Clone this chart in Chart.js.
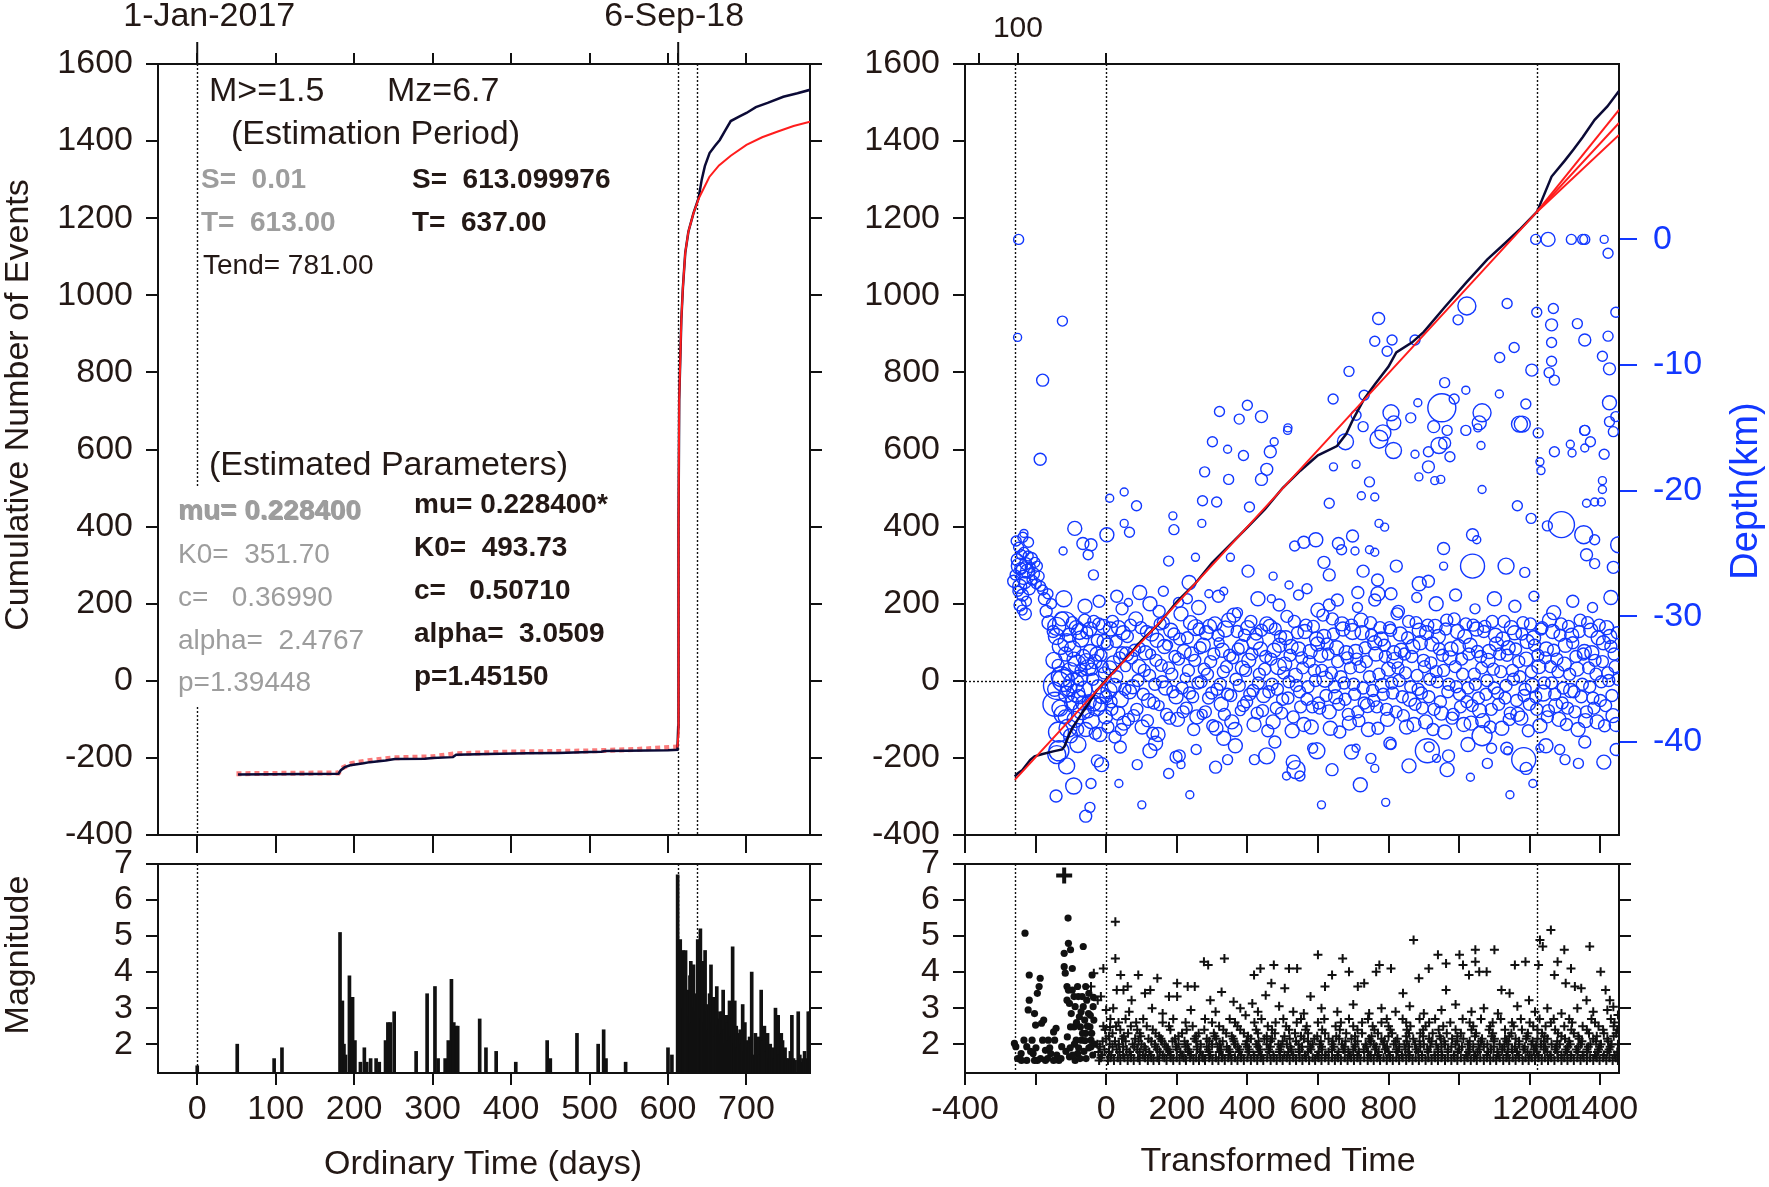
<!DOCTYPE html>
<html>
<head>
<meta charset="utf-8">
<script src="https://cdn.jsdelivr.net/npm/chart.js@4/dist/chart.umd.min.js"></script>
<style>
  html, body { margin: 0; padding: 0; background: #fff; }
  #wrap { position: relative; width: 1769px; height: 1187px; }
  #wrap canvas { position: absolute; left: 0; top: 0; }
</style>
</head>
<body>
<div id="wrap">
  <canvas id="cumOrd" width="1769" height="1187"></canvas>
  <canvas id="magOrd" width="1769" height="1187"></canvas>
  <canvas id="cumTrans" width="1769" height="1187"></canvas>
  <canvas id="magTrans" width="1769" height="1187"></canvas>
</div>
<script>
// ---- ordinary time panel (top left) ----
const ordDaysObs = [52,180,183,188,195,212,220,240,252,290,300,326,330,370,420,460,500,515,520,600,612,613,613.4,614.3,617,619,622,626,632.5,639,643,647,653,660,666,673,680,690,700,712,727,747,765,781];
const ordCumObs  = [-243,-241,-232,-224,-219,-214,-211,-207,-203,-202,-200,-198,-192,-190,-188,-187,-185,-184,-182,-180,-179,-120,400,729,936,1020,1110,1165,1213,1252,1300,1335,1369,1388,1403,1428,1452,1463,1473,1488,1499,1515,1524,1533];
const ordDaysFitEarly = [50,180,184,196,215,250,300,330,400,500,560,612];
const ordCumFitEarly  = [-241,-239,-227,-215,-208,-200,-197,-189,-185,-182,-178,-172];
const ordDaysFit = [612,613.2,613.4,614.3,617,619,622,626,632.5,639,645,652.7,665,680,700,720,740,760,781];
const ordCumFit  = [-173,-140,400,729,936,1020,1110,1165,1213,1250,1275,1307,1337,1362,1390,1410,1425,1439,1450];

// ---- magnitude vs ordinary time (bottom left) : [day, M] ----
const magEvents = [[0,1.4],[51,2.0],[98,1.6],[108,1.9],[182,5.1],[185,3.2],[187,2.0],[189,1.7],[194,3.9],[198,3.3],[201,2.1],[208,1.5],[213,1.9],[216,1.5],[221,1.6],[228,1.6],[232,1.5],[240,2.1],[243,2.6],[246,2.6],[251,2.9],[279,1.8],[293,3.4],[303,3.6],[307,1.6],[316,1.6],[320,2.1],[324,3.8],[327,2.6],[330,2.5],[332,2.5],[360,2.7],[368,1.9],[381,1.8],[406,1.5],[446,2.1],[450,1.6],[484,2.3],[511,2.0],[518,2.4],[521,1.6],[546,1.5],[600,1.9],[605,1.7],
  [612.3,6.7],[613,3.5],[614,4.5],[615.6,4.9],[617,4.0],[618,3.8],[619,4.6],[620,3.0],[621,4.5],[622.4,4.6],[624,3.3],[625.8,3.5],[627,2.8],[628,3.9],[629.1,4.3],[630,2.6],[631,3.6],[632.5,4.2],[633,3.0],[634.5,3.4],[636,2.9],[637.9,4.9],[639,3.3],[641.3,5.2],[642,2.7],[643,4.0],[644,4.3],[646,2.6],[647.3,4.6],[649,3.1],[650.7,2.9],[652,2.4],[653,3.4],[654.8,4.2],[656,2.6],[657,2.9],[658.1,3.3],[660,2.2],[661,3.0],[662.2,3.6],[664,2.5],[665,2.7],[666.2,2.9],[668,2.3],[669,2.9],[670.3,3.5],[672,2.4],[673,2.0],[674.3,2.8],[676,2.6],[677,2.1],[678.4,3.2],[680,2.7],[681,2.2],[682.4,4.7],[684,2.0],[685.1,3.2],[687,2.5],[688,1.9],[689.8,2.3],[692,2.4],[694,2.0],[695.2,3.1],[697,1.8],[698,2.6],[700,2.1],[702,1.9],[704,2.2],[706.7,4.0],[709,1.7],[711.4,2.3],[713,2.0],[715.4,2.2],[717,1.7],[718.8,3.5],[720,2.1],[722.9,2.5],[725,1.8],[726.9,2.3],[729,1.6],[730.3,2.0],[733,1.9],[735,1.6],[737,3.0],[740.4,2.8],[742,1.7],[744.4,2.3],[746,2.1],[749.2,1.9],[751,1.6],[753.9,1.6],[756,1.8],[757.9,2.8],[760,1.6],[762,1.55],[766,2.9],[768,1.7],[770.7,1.5],[772,1.6],[774.1,1.8],[776,1.6],[778.8,2.9],[780,1.8],[781,2.9]];

// ---- transformed time panel (top right) ----
const trTimeObs = [-259,-250,-238,-215,-203,-180,-150,-125,-118,-105,-96,-80,-65,-45,-28,-10,3,50,100,150,200,250,300,350,400,450,500,550,600,654,680,700,731,762,800,822,867,900,959,1020,1080,1130,1171,1221,1262,1300,1323,1350,1384,1420,1453];
const trCumObs  = [-248,-240,-232,-205,-196,-190,-183,-178,-170,-140,-123,-100,-79,-52,-27,-8,6,52,104,148,205,250,306,352,398,445,500,545,585,609,640,679,731,770,815,852,878,905,969,1033,1093,1135,1170,1217,1308,1350,1377,1410,1455,1490,1530];
const trTimeFit  = [-259,1221,1453];
const trCumFit   = [-257,1217,1447];
const trTimeBand = [1221,1453];
const trCumUpper = [1217,1481];
const trCumLower = [1217,1416];

// depth of events [transformed time, depth km, circle radius]
const depthScatter = [[-248,0,5],[-251,-7.8,4],[-124,-6.5,5],[-180,-11.2,6],[772,-6.3,6],[761,-8.1,5],[810,-8,5],[796,-8.9,5],[875,-8,5],[688,-10.5,5],[1022,-5.3,9],[997,-6.4,5],[1136,-5.1,5],[1156,-8.6,5],[1115,-9.4,5],[1206,-10.4,6],[1217,0,5],[1252,0,7],[1318,0,5],[1350,0,5],[1356,0,5],[1411,0,4],[1422,-1.1,5],[1220,-5.8,5],[1267,-5.5,5],[1262,-6.8,6],[1335,-6.7,5],[1356,-8,6],[1422,-7.7,5],[1444,-5.8,5],[1262,-8.2,5],[1262,-9.7,5],[1406,-9.3,5],[1270,-11.2,5],[1255,-10.6,5],[1426,-10.3,6],[1426,-13,7],[1426,-14.5,5],[1444,-14.1,5],[1356,-15.2,5],[1437,-15.3,5],[959,-11.4,5],[1019,-12,4],[1114,-12.3,4],[951,-13.4,14],[986,-12.7,5],[883,-13,4],[863,-14.2,5],[807,-13.8,8],[815,-14.6,7],[784,-15.4,8],[731,-12.4,5],[643,-12.7,5],[708,-14,5],[728,-14.9,5],[928,-14.9,6],[966,-15.2,5],[1019,-15.2,5],[1065,-13.8,9],[1057,-14.6,7],[1179,-14.7,8],[1189,-13.1,5],[1224,-15.4,5],[400,-13.2,5],[321,-13.7,5],[377,-14.3,5],[440,-14.1,6],[514,-15.2,4],
  [-187,-17.5,6],[-233,-23.4,4],[-89,-23,7],[-66,-24.2,6],[-43,-24.3,6],[-51,-25.1,5],[-36,-26.7,5],[-122,-24.8,4],[2,-23.5,7],[10,-20.6,4],[51,-20.1,4],[86,-21.2,5],[51,-22.6,4],[66,-23.3,5],[189,-22,4],[192,-23.1,5],[177,-25.6,5],[273,-20.8,5],[313,-20.9,5],[271,-22.6,4],[301,-16.1,5],[344,-16.7,4],[389,-17.2,5],[465,-16.9,6],[455,-18.3,6],[440,-19.1,6],[279,-18.5,5],[347,-19.1,5],[406,-21.3,5],[352,-25.3,4],[253,-25.3,4],[402,-26.4,6],[473,-26.8,4],[515,-15,4],[476,-16.1,4],[632,-21,5],[644,-18.1,4],[678,-16.1,8],[708,-17.9,4],[723,-20.4,4],[746,-19.3,5],[761,-20.5,4],[773,-22.6,4],[789,-22.9,4],[773,-15.9,9],[814,-16.8,8],[875,-17.1,4],[913,-16.9,5],[943,-16.4,8],[959,-16.2,6],[974,-17.3,5],[913,-18.1,6],[886,-18.9,4],[931,-19.2,4],[948,-19.1,4],[1062,-16.4,4],[1065,-19.9,4],[1053,-15,4],[1171,-14.7,8],[1165,-21.2,5],[1204,-22.2,5],[1229,-17.7,4],[1232,-18.4,4],[1270,-16.9,5],[1315,-16.3,4],[1320,-17,4],[1356,-16.6,4],[1372,-16.1,5],[1356,-15.2,5],[1411,-17.1,5],[1406,-19.2,4],[1406,-19.9,4],[1361,-21,4],[1384,-20.9,4],[1403,-20.9,4],[1250,-22.8,5],[1290,-22.7,13],[1353,-23.5,9],[1384,-23.9,5],[1452,-24.3,8],[1437,-26.1,6],[1361,-25.1,6],[1384,-25.8,5],[1038,-23.5,6],[1050,-23.9,4],[956,-24.6,6],[956,-26,4],[1038,-26,12],[1133,-26,8],[1186,-26.5,5],[822,-26,6],[769,-27.1,6],[728,-26.4,6],[698,-23.6,6],[658,-24.2,6],[667,-24.7,5],[594,-23.9,7],[560,-24.1,6],[534,-24.4,5],[617,-25.7,6],[632,-26.7,6],[705,-24.8,4],[746,-24.7,4],[761,-24.9,4],[887,-27.4,7],[913,-27.2,6],[807,-28.2,6],[761,-28.7,6],[713,-28.1,6],[632,-29.1,6],[569,-27.8,5],[518,-27.5,4],[468,-28.6,4],[333,-28,4],[291,-28.2,4],[235,-27.3,7],[162,-28,5],[30,-28.4,6],[63,-28.9,4],[124,-29,7],[230,-28.6,5],
  [-142,-44.3,6],[-58,-45.9,6],[-46,-45.2,5],[-92,-43.5,8],[-112,-41.9,8],[-134,-40.7,10],[-43,-43.3,5],[-13,-41.8,7],[36,-43.3,4],[101,-45,4],[237,-44.2,4],[177,-42.5,5],[212,-41.8,4],[124,-40.7,7],[207,-41.1,6],[344,-41.4,5],[333,-39.7,7],[455,-41.1,8],[511,-42.7,4],[538,-42.2,9],[549,-42.7,5],[597,-40.7,8],[610,-45,4],[708,-40.5,4],[720,-43.4,7],[761,-42.1,4],[792,-44.8,4],[807,-40.2,5],[910,-40.7,12],[936,-41.3,4],[966,-42.2,7],[1032,-42.8,4],[1065,-39.5,10],[1092,-40.5,5],[1138,-40.7,4],[1183,-41.4,12],[1144,-44.2,4],[1209,-43.3,4],[1229,-40.5,4],[1285,-40.6,5],[1338,-41.7,5]];

const depthCluster = [[-258,-26.7,5],[-252,-25.5,6],[-248,-24.5,5],[-245,-27.6,7],[-242,-26.2,6],[-240,-25.1,5],[-237,-28.3,6],[-235,-26.9,7],[-233,-24.9,5],[-230,-27.3,6],[-228,-25.8,6],[-226,-28.8,5],[-223,-26.4,7],[-221,-25.2,5],[-218,-27.8,6],[-215,-26.1,5],[-212,-25.4,6],[-210,-27.1,5],[-206,-26.6,6],[-202,-25.7,5],[-198,-27.4,5],[-195,-26.0,5],[-190,-26.8,5],[-186,-27.6,5],[-180,-27.9,5],[-175,-28.6,6],[-250,-28.0,5],[-244,-29.1,6],[-238,-29.5,5],[-229,-29.8,6],[-262,-27.2,6],[-255,-24.0,5],[-236,-23.7,5],[-220,-24.1,5],[-246,-26.0,8],[-232,-26.3,8],[-170,-29.6,6],[-162,-30.5,7],[-155,-29.0,5],[-150,-31.2,6],[-165,-28.2,5]];

const depthBand = [[-148,-33.5,8],[-145,-37.0,12],[-140,-30.8,9],[-138,-35.5,14],[-135,-39.2,10],[-130,-32.4,8],[-127,-34.8,10],[-122,-37.8,9],[-118,-30.6,12],[-115,-33.0,7],[-112,-36.2,8],[-108,-38.9,9],[-105,-31.5,7],[-102,-34.4,9],[-98,-36.9,7],[-95,-32.6,8],[-92,-35.3,10],[-88,-38.2,8],[-85,-30.9,7],[-82,-33.8,9],[-78,-36.4,7],[-75,-34.9,8],[-72,-31.8,8],[-68,-37.5,9],[-65,-33.2,7],[-62,-35.8,8],[-58,-39.0,7],[-55,-31.3,6],[-52,-34.1,8],[-48,-36.8,7],[-45,-32.8,7],[-42,-38.3,8],[-38,-35.0,6],[-35,-30.4,6],[-32,-33.6,7],[-28,-37.2,9],[-25,-31.9,6],[-22,-35.6,7],[-18,-39.4,7],[-15,-33.1,6],[-12,-36.3,8],[-8,-30.8,7],[-5,-34.5,6],[-2,-38.0,7],
  [3,-32.2,6],[8,-35.9,8],[12,-31.0,7],[16,-37.4,6],[20,-33.7,7],[25,-39.6,6],[30,-34.8,6],[35,-30.9,7],[40,-36.6,8],[45,-32.9,6],[50,-38.5,7],[55,-34.0,5],[60,-31.6,6],[66,-36.0,7],[72,-33.3,6],[78,-37.9,6],[84,-30.2,7],[90,-35.1,6],[96,-32.5,5],[102,-38.8,7],[108,-34.3,6],[114,-31.2,6],[120,-36.7,7],[126,-33.0,5],[132,-39.3,6],[138,-35.4,6],[144,-31.9,7],[150,-37.1,5],[156,-33.9,6],[162,-30.5,6],[168,-35.7,7],[174,-32.3,5],[180,-38.1,6],[186,-34.6,6],[192,-31.4,6],[198,-36.4,7],
  [205,-33.4,6],[212,-29.8,7],[218,-37.6,6],[224,-34.9,5],[230,-31.7,6],[236,-36.1,6],[242,-33.0,7],[248,-39.0,6],[254,-30.9,8],[260,-35.3,6],[266,-32.5,6],[272,-37.8,5],[278,-34.2,6],[284,-31.3,7],[290,-36.5,6],[296,-33.6,6],[302,-38.7,6],[308,-30.6,7],[314,-35.8,6],[320,-32.1,5],[326,-37.0,7],[332,-34.4,6],[338,-31.0,8],[344,-36.2,6],[350,-33.1,6],[356,-38.4,7],[362,-29.9,7],[368,-35.0,6],[374,-32.6,6],[380,-37.5,5],[386,-34.1,7],[392,-31.5,6],[398,-36.8,6],
  [404,-33.5,7],[410,-30.4,6],[416,-35.9,6],[422,-32.0,8],[428,-37.7,6],[434,-34.6,6],[440,-31.1,6],[446,-36.3,7],[452,-33.2,6],[458,-39.1,6],[464,-30.8,7],[470,-35.4,6],[476,-32.7,7],[482,-37.3,6],[488,-34.0,8],[494,-31.6,6],[500,-36.6,6],[506,-33.8,7],[512,-30.0,6],[518,-35.2,6],[524,-32.4,7],[530,-38.0,6],[536,-34.7,7],[542,-31.3,6],[548,-36.0,6],[554,-33.3,6],[560,-38.6,7],[566,-30.7,6],[572,-35.6,6],[578,-32.8,7],[584,-37.2,6],[590,-34.3,6],[596,-31.8,7],
  [602,-36.9,6],[608,-33.1,7],[614,-29.9,6],[620,-35.0,8],[626,-32.2,6],[632,-37.6,7],[638,-34.5,6],[644,-31.4,6],[650,-36.4,7],[656,-33.6,6],[662,-39.2,6],[668,-30.6,7],[674,-35.3,6],[680,-32.9,7],[686,-37.8,6],[692,-34.1,6],[698,-31.2,8],[704,-36.2,6],[710,-33.4,6],[716,-38.3,6],[722,-30.3,7],[728,-35.7,6],[734,-32.5,6],[740,-37.1,7],[746,-34.8,6],[752,-31.5,6],[758,-36.7,6],[764,-33.0,7],[770,-38.9,6],[776,-30.9,6],[782,-35.5,7],[788,-32.3,6],[794,-37.4,6],
  [800,-34.2,7],[806,-31.1,6],[812,-36.1,6],[818,-33.5,8],[824,-29.8,6],[830,-35.1,6],[836,-32.7,7],[842,-37.9,6],[848,-34.5,6],[854,-31.7,6],[860,-36.6,7],[866,-33.2,6],[872,-38.6,7],[878,-30.5,6],[884,-35.8,6],[890,-32.1,7],[896,-37.3,6],[902,-34.0,6],[908,-31.3,7],[914,-36.4,6],[920,-33.7,6],[926,-39.0,6],[932,-30.8,7],[938,-35.2,6],[944,-32.6,6],[950,-37.7,7],[956,-34.3,6],[962,-31.0,6],[968,-36.0,6],[974,-33.3,7],[980,-38.1,6],[986,-30.2,6],[992,-35.6,6],[998,-32.4,7],
  [1004,-37.2,6],[1010,-34.6,6],[1016,-31.6,7],[1022,-36.8,6],[1028,-33.0,6],[1034,-38.5,7],[1040,-30.7,6],[1046,-35.4,6],[1052,-32.8,6],[1058,-37.5,7],[1064,-34.1,6],[1070,-31.2,6],[1076,-36.2,6],[1082,-33.5,7],[1088,-38.8,6],[1094,-30.4,6],[1100,-35.7,6],[1106,-32.2,7],[1112,-37.0,6],[1118,-34.4,6],[1124,-31.8,7],[1130,-36.5,6],[1136,-33.1,6],[1142,-38.2,6],[1148,-30.9,7],[1154,-35.0,6],[1160,-32.6,6],[1166,-37.8,7],[1172,-34.8,6],[1178,-31.4,6],[1184,-36.3,6],[1190,-33.4,7],[1196,-39.1,6],
  [1202,-30.6,6],[1208,-35.5,7],[1214,-32.3,6],[1220,-37.4,6],[1226,-34.0,7],[1232,-31.0,6],[1238,-36.1,8],[1244,-33.3,6],[1250,-38.0,6],[1256,-30.3,7],[1262,-35.3,6],[1268,-32.7,6],[1274,-37.1,7],[1280,-34.4,6],[1286,-31.5,6],[1292,-36.9,6],[1298,-33.8,7],[1304,-38.6,6],[1310,-30.8,6],[1316,-35.9,7],[1322,-32.1,6],[1328,-37.6,6],[1334,-34.2,7],[1340,-31.2,6],[1346,-36.4,6],[1352,-33.0,6],[1358,-38.3,7],[1364,-30.5,6],[1370,-35.6,6],[1376,-32.9,7],[1382,-37.3,6],[1388,-34.6,6],[1394,-31.7,7],[1400,-36.7,6],[1406,-33.6,6],[1412,-38.7,6],[1418,-30.9,7],[1424,-35.1,6],[1430,-32.4,6],[1436,-37.9,7],[1442,-34.0,6],[1448,-31.3,6]];

const depthBandLate = [[-146,-35.8,7],[-141,-31.6,8],[-136,-33.9,6],[-131,-37.3,8],[-126,-30.2,7],[-121,-35.1,11],[-116,-38.0,7],[-111,-32.1,9],[-106,-35.7,8],[-101,-39.5,7],[-96,-30.5,6],[-91,-33.4,7],[-86,-36.1,9],[-81,-39.0,6],[-76,-31.2,8],[-71,-34.3,6],[-66,-36.9,7],[-61,-30.3,6],[-56,-33.6,8],[-51,-37.6,6],[-46,-31.0,7],[-41,-34.2,6],[-36,-36.9,8],[-31,-39.3,6],[-26,-33.0,7],[-21,-30.6,6],[-16,-37.0,7],[-11,-34.0,6],[-6,-32.0,7],[-1,-36.4,6],
  [5,-38.8,6],[10,-34.1,7],[14,-36.8,6],[18,-30.4,6],[23,-35.5,7],[28,-32.0,6],[33,-37.7,7],[38,-33.3,6],[43,-39.0,6],[48,-31.3,7],[53,-35.8,6],[58,-33.0,7],[63,-38.2,6],[69,-30.7,6],[75,-35.6,7],[81,-32.7,6],[87,-37.4,6],[93,-34.0,7],[99,-30.9,6],[105,-36.2,6],[111,-32.9,7],[117,-38.3,6],[123,-34.7,6],[129,-31.4,7],[135,-36.9,6],[141,-33.5,6],[147,-39.4,7],[153,-30.6,6],[159,-35.2,6],[165,-32.4,7],[171,-37.8,6],[177,-34.1,6],[183,-31.1,7],[189,-36.0,6],[195,-33.2,6],
  [202,-38.2,7],[208,-31.8,6],[215,-35.7,6],[221,-32.8,7],[227,-37.3,6],[233,-34.3,6],[239,-30.5,7],[245,-36.4,6],[251,-33.5,6],[257,-38.0,7],[263,-31.0,6],[269,-35.2,6],[275,-32.3,7],[281,-37.6,6],[287,-34.6,6],[293,-30.8,7],[299,-36.1,6],[305,-33.0,6],[311,-38.9,7],[317,-31.5,6],[323,-35.4,6],[329,-32.7,7],[335,-37.8,6],[341,-34.0,6],[347,-30.3,7],[353,-36.3,6],[359,-33.3,6],[365,-39.0,7],[371,-31.2,6],[377,-35.5,6],[383,-32.4,7],[389,-37.1,6],[395,-34.3,6],
  [401,-30.9,7],[407,-36.2,6],[413,-33.0,6],[419,-38.6,7],[425,-31.4,6],[431,-35.3,6],[437,-32.6,7],[443,-37.5,6],[449,-34.2,6],[455,-30.6,7],[461,-36.0,6],[467,-33.4,6],[473,-38.4,7],[479,-31.0,6],[485,-35.8,6],[491,-32.3,7],[497,-37.7,6],[503,-34.5,6],[509,-31.7,7],[515,-36.5,6],[521,-33.1,6],[527,-39.1,7],[533,-30.4,6],[539,-35.5,6],[545,-32.6,7],[551,-37.2,6],[557,-34.1,6],[563,-31.2,7],[569,-36.6,6],[575,-33.6,6],[581,-38.8,7],[587,-30.8,6],[593,-35.1,6],[599,-32.2,7],
  [605,-37.3,6],[611,-34.3,6],[617,-31.6,7],[623,-36.3,6],[629,-33.0,6],[635,-38.9,7],[641,-30.2,6],[647,-35.6,6],[653,-32.5,7],[659,-37.0,6],[665,-34.8,6],[671,-31.0,7],[677,-36.6,6],[683,-33.3,6],[689,-38.5,7],[695,-30.7,6],[701,-35.4,6],[707,-32.8,7],[713,-37.6,6],[719,-34.0,6],[725,-31.3,7],[731,-36.9,6],[737,-33.6,6],[743,-39.0,7],[749,-30.5,6],[755,-35.9,6],[761,-32.1,7],[767,-37.2,6],[773,-34.6,6],[779,-31.8,7],[785,-36.2,6],[791,-33.2,6],[797,-38.2,7],
  [803,-30.9,6],[809,-35.3,6],[815,-32.9,7],[821,-37.6,6],[827,-34.1,6],[833,-31.4,7],[839,-36.4,6],[845,-33.0,6],[851,-38.8,7],[857,-30.4,6],[863,-35.6,6],[869,-32.4,7],[875,-37.0,6],[881,-34.7,6],[887,-31.1,7],[893,-36.1,6],[899,-33.5,6],[905,-38.4,7],[911,-30.7,6],[917,-35.0,6],[923,-32.2,7],[929,-37.4,6],[935,-34.4,6],[941,-31.6,7],[947,-36.8,6],[953,-33.1,6],[959,-39.2,7],[965,-30.3,6],[971,-35.4,6],[977,-32.6,7],[983,-37.8,6],[989,-34.0,6],[995,-31.2,7],
  [1001,-36.2,6],[1007,-33.4,6],[1013,-38.6,7],[1019,-30.6,6],[1025,-35.7,6],[1031,-32.3,7],[1037,-37.1,6],[1043,-34.6,6],[1049,-31.0,7],[1055,-36.5,6],[1061,-33.2,6],[1067,-38.3,7],[1073,-30.8,6],[1079,-35.1,6],[1085,-32.8,7],[1091,-37.4,6],[1097,-34.2,6],[1103,-31.5,7],[1109,-36.1,6],[1115,-33.0,6],[1121,-38.9,7],[1127,-30.4,6],[1133,-35.5,6],[1139,-32.5,7],[1145,-37.7,6],[1151,-34.3,6],[1157,-31.3,7],[1163,-36.7,6],[1169,-33.6,6],[1175,-38.1,7],[1181,-30.5,6],[1187,-35.8,6],[1193,-32.0,7],
  [1199,-37.0,6],[1205,-34.4,6],[1211,-31.7,7],[1217,-36.4,6],[1223,-33.1,6],[1229,-38.7,7],[1235,-30.9,6],[1241,-35.3,6],[1247,-32.6,7],[1253,-37.5,6],[1259,-34.0,6],[1265,-31.2,7],[1271,-36.2,6],[1277,-33.4,6],[1283,-38.2,7],[1289,-30.6,6],[1295,-35.7,6],[1301,-32.3,7],[1307,-37.3,6],[1313,-34.6,6],[1319,-31.5,7],[1325,-36.0,6],[1331,-33.2,6],[1337,-39.0,7],[1343,-30.3,6],[1349,-35.4,6],[1355,-32.8,7],[1361,-37.6,6],[1367,-34.1,6],[1373,-31.1,7],[1379,-36.5,6],[1385,-33.5,6],[1391,-38.4,7],[1397,-30.7,6],[1403,-35.2,6],[1409,-32.1,7],[1415,-37.1,6],[1421,-34.5,6],[1427,-31.6,7],[1433,-36.3,6],[1439,-33.0,6],[1445,-38.6,7],[1451,-35.0,6]];

// loose circles along the upper and lower edges of the band
const depthBandEdge = [[-120,-28.6,8],[-60,-29.2,7],[-20,-28.8,6],[45,-29.4,6],[95,-28.1,7],[150,-29.6,6],[205,-28.9,5],[262,-29.3,7],[318,-28.4,6],[372,-29.7,5],[430,-28.6,7],[490,-29.1,6],[545,-28.3,5],[600,-29.5,7],[655,-28.7,6],[712,-29.3,5],[770,-28.2,7],[828,-29.6,6],[880,-28.5,5],[935,-29.0,7],[990,-28.3,6],[1045,-29.4,5],[1100,-28.6,7],[1158,-29.2,6],[1212,-28.4,5],[1268,-29.7,7],[1322,-28.8,6],[1378,-29.3,5],[1430,-28.5,7],
  [-140,-41.0,9],[-80,-40.2,8],[-25,-41.5,6],[40,-40.4,6],[88,-41.8,5],[140,-40.1,7],[198,-41.2,6],[255,-40.6,5],[310,-42.0,6],[366,-40.3,7],[420,-41.4,5],[478,-40.0,6],[530,-41.6,7],[585,-40.5,5],[640,-42.2,6],[695,-40.8,7],[750,-41.3,5],[804,-40.1,6],[858,-41.9,7],[915,-40.4,5],[970,-41.1,6],[1025,-40.2,7],[1080,-41.7,5],[1135,-40.5,6],[1190,-42.1,6],[1246,-40.3,7],[1300,-41.4,5],[1356,-40.0,6],[1410,-41.6,7],[1445,-40.6,6]];

// ---- magnitude vs transformed time (bottom right) ----
const mainshock = [[-119,6.68]];
const magDots = [[-260,2.02],[-256,1.93],[-251,1.6],[-241,1.74],[-230,5.08],[-225,1.93],[-218,3.22],[-218,3.92],[-221,2.95],[-210,2.11],[-203,2.85],[-200,2.53],[-195,3.41],[-190,3.6],[-187,3.83],[-183,2.58],[-180,2.11],[-177,2.67],[-172,1.83],[-172,1.55],[-164,2.11],[-157,1.74],[-149,2.34],[-146,2.11],[-142,2.44],[-134,1.55],[-126,1.93],[-119,4.52],[-119,4.15],[-116,3.97],[-111,3.6],[-111,3.22],[-108,5.5],[-107,4.8],[-104,3.13],[-101,4.62],[-99,2.85],[-96,4.1],[-96,3.5],[-91,2.48],[-88,3.04],[-85,2.11],[-81,3.6],[-81,1.74],[-76,2.76],[-73,2.48],[-70,2.11],[-65,4.71],[-65,3.04],[-61,2.67],[-58,2.3],[-55,3.22],[-50,2.85],[-46,2.48],[-43,2.11],[-40,3.92],[-37,3.04],[-35,2.67],[-43,1.93],[-88,1.55],[-104,1.65],[-149,1.55],[-195,1.55],[-225,1.55],[-233,2.11],[-207,1.74],[-203,1.55],[-101,2.48],[-107,3.5],[-91,3.32],[-79,3.32],[-68,3.32],[-58,3.6],[-49,3.41],
  [-240,1.55],[-214,1.8],[-199,1.9],[-186,1.6],[-166,1.6],[-160,1.9],[-140,1.7],[-128,1.6],[-114,1.8],[-110,2.2],[-102,1.9],[-95,1.7],[-90,2.0],[-84,2.6],[-78,1.9],[-74,1.6],[-71,2.9],[-67,2.3],[-63,1.8],[-60,2.1],[-57,1.6],[-53,2.5],[-49,1.9],[-45,2.8],[-41,2.3],[-38,1.7],[-36,3.3],[-33,2.0]];
const magPlus = [[-43,3.6],[-35,3.97],[-24,3.22],[-15,3.32],[-8,4.1],[0,2.95],[11,2.48],[26,5.4],[26,4.38],[30,3.5],[41,3.92],[49,3.5],[61,3.6],[72,3.22],[91,3.92],[110,3.41],[125,3.5],[145,3.83],[178,3.32],[201,3.69],[201,3.32],[231,3.6],[251,3.6],[277,4.29],[289,4.2],[295,3.22],[327,3.45],[335,4.38],[361,3.18],[414,3.13],[419,3.92],[437,4.1],[452,3.36],[468,3.69],[475,4.2],[506,3.55],[518,4.1],[541,4.1],[579,3.32],[600,4.48],[620,3.6],[640,3.92],[670,4.38],[688,4.01],[713,3.6],[731,3.69],[765,4.01],[774,4.2],[807,4.1],[841,3.41],[871,4.89],[886,3.83],[914,4.1],[940,4.48],[963,4.24],[963,3.5],[1001,4.48],[1011,4.2],[1028,3.92],[1046,4.62],[1046,4.29],[1057,4.01],[1078,4.01],[1100,4.62],[1120,3.5],[1143,3.41],[1158,4.2],[1188,4.29],[1198,3.22],[1225,4.2],[1229,4.89],[1237,4.71],[1260,5.17],[1270,3.92],[1279,4.29],[1298,4.62],[1302,3.69],[1317,4.1],[1328,3.6],[1346,3.55],[1361,3.22],[1370,4.71],[1401,4.01],[1415,3.5],[1427,3.22],[1437,3.04],[1450,2.81],
  [20,3.0],[65,2.9],[130,3.0],[160,2.85],[240,2.95],[310,2.9],[380,3.0],[395,2.8],[430,2.9],[490,3.05],[530,2.9],[560,2.85],[610,3.0],[655,2.9],[700,3.1],[745,2.85],[780,3.0],[820,2.9],[860,3.05],[900,2.85],[950,2.95],[990,3.1],[1035,2.9],[1070,3.0],[1110,2.85],[1165,3.05],[1215,2.9],[1250,3.0],[1290,2.85],[1335,3.0],[1380,2.9],[1420,2.95]];
// the dense low-magnitude crowd, grouped by magnitude level
const plusRows = [
  [1.55, [-20,5,22,40,61,78,95,118,134,150,171,190,208,226,247,263,280,301,318,336,355,372,390,410,428,445,466,483,500,520,538,556,575,592,610,630,648,665,684,702,720,741,758,776,795,812,830,850,868,886,905,922,940,960,978,995,1015,1033,1050,1070,1088,1105,1125,1142,1160,1180,1197,1215,1234,1252,1270,1290,1307,1325,1344,1362,1380,1398,1417,1435,1450]],
  [1.62, [-15,12,33,52,70,90,110,128,145,165,183,200,220,238,255,274,292,311,328,346,365,382,400,420,438,456,475,493,512,530,548,566,585,602,620,640,657,676,694,712,731,750,768,786,804,822,840,858,877,895,913,932,950,968,987,1005,1024,1042,1060,1079,1097,1115,1134,1152,1170,1188,1206,1225,1243,1261,1280,1298,1316,1335,1353,1371,1390,1408,1426,1444]],
  [1.7,  [-12,15,48,70,104,126,160,182,215,240,272,295,330,352,383,418,440,474,505,530,563,598,622,655,690,712,748,770,803,838,860,895,930,952,985,1020,1045,1078,1110,1135,1168,1200,1225,1258,1290,1318,1350,1385,1410,1440]],
  [1.78, [-22,8,38,66,95,122,152,180,210,236,266,292,320,350,376,404,432,462,490,516,546,572,602,630,658,686,716,742,772,800,826,856,884,912,940,968,996,1026,1052,1082,1108,1138,1164,1194,1220,1250,1278,1306,1336,1364,1392,1420,1448]],
  [1.85, [-5,30,58,88,112,145,175,200,232,258,290,325,348,378,405,436,460,492,525,548,580,612,640,672,700,730,762,790,822,848,878,910,940,968,1000,1030,1058,1090,1122,1150,1182,1212,1240,1272,1302,1332,1362,1395,1425]],
  [1.93, [-18,18,48,80,108,140,170,198,225,258,285,316,342,372,400,430,465,495,522,555,578,610,645,676,705,738,765,796,830,858,890,918,950,978,1008,1040,1070,1098,1128,1158,1186,1218,1245,1276,1308,1338,1366,1398,1428]],
  [2.0,  [-25,10,36,75,100,138,165,205,230,268,300,322,365,395,425,455,488,512,545,585,605,640,668,705,735,758,785,815,845,875,900,935,960,990,1025,1055,1080,1115,1140,1170,1205,1232,1262,1285,1315,1345,1372,1402,1432,1450]],
  [2.08, [-10,25,55,92,128,158,188,222,255,292,330,362,398,432,466,500,538,572,608,642,678,712,750,788,820,852,888,922,958,995,1030,1062,1098,1135,1170,1208,1240,1278,1312,1348,1388,1422]],
  [2.15, [0,45,82,120,155,195,250,285,312,360,410,448,470,520,560,590,630,660,695,745,780,825,870,915,948,980,1012,1065,1100,1130,1160,1190,1222,1250,1300,1340,1380,1420]],
  [2.22, [8,50,98,150,205,255,308,356,402,455,505,552,598,652,705,752,800,850,898,945,995,1045,1092,1142,1192,1242,1290,1338,1390,1438]],
  [2.3,  [18,62,95,140,215,262,305,340,390,430,478,535,572,620,680,725,770,810,858,890,925,965,1005,1048,1095,1148,1195,1235,1280,1325,1368,1410,1445]],
  [2.4,  [-3,40,88,132,182,228,278,332,380,425,470,518,565,612,662,712,760,805,852,898,942,990,1035,1085,1130,1178,1222,1272,1318,1362,1408,1448]],
  [2.5,  [-8,28,70,115,178,245,320,372,458,510,568,650,700,755,800,862,905,955,1040,1088,1155,1210,1245,1298,1350,1395,1438]],
  [2.6,  [35,85,160,225,300,365,420,480,540,600,665,725,780,850,915,975,1030,1095,1150,1200,1260,1320,1385,1440]],
  [2.7,  [12,55,105,190,280,350,440,502,552,618,688,742,795,840,888,932,1010,1062,1118,1175,1228,1268,1312,1375,1430]]
];

const W = 1769, H = 1187;
const INK = '#231815', NAVY = '#0b0a36', RED = '#ff1d1d', BLUE = '#1238ff', GRAY = '#9d9d9d';
const FONT = "'Liberation Sans', Arial, Helvetica, sans-serif";
Chart.defaults.font.family = FONT;
Chart.defaults.color = INK;

function xy(xs, ys) { return xs.map((x, i) => ({ x: x, y: ys[i] })); }
function pts(list) { return list.map(p => ({ x: p[0], y: p[1] })); }
function range(a, b, step) { const out = []; for (let v = a; v <= b; v += step) out.push(v); return out; }

function fixSize(size) {
    return s => { if (s.isHorizontal()) s.height = size; else s.width = size; };
}
function frameScale(o) {
    return {
        type: 'linear', axis: o.axis, position: o.position, min: o.min, max: o.max, offset: false,
        afterBuildTicks: s => { s.ticks = (o.ticks || []).map(v => ({ value: v })); },
        afterFit: fixSize(o.size),
        grid: { offset: false, drawOnChartArea: false, drawTicks: !!o.tick, tickLength: o.tick || 0, color: o.tickColor || '#111', lineWidth: 2 },
        border: { display: true, color: '#111', width: 2 },
        ticks: {
            display: !!o.label, autoSkip: false, maxRotation: 0, padding: o.pad || 0,
            color: o.labelColor || INK, font: { size: o.fontSize || 34 },
            callback: o.label || (v => v)
        }
    };
}
function baseOptions(pad, scales) {
    return {
        responsive: false, animation: false, events: [],
        layout: { padding: pad, autoPadding: false },
        plugins: { legend: { display: false }, tooltip: { enabled: false } },
        scales: scales
    };
}
function dottedV(chart, value, from, to) {
    const a = chart.chartArea, ctx = chart.ctx;
    const px = Math.round(chart.scales.x.getPixelForValue(value)) + 0.5;
    ctx.save();
    ctx.strokeStyle = '#111'; ctx.lineWidth = 1.4; ctx.setLineDash([2, 2]);
    ctx.beginPath();
    ctx.moveTo(px, from === undefined ? a.top : from);
    ctx.lineTo(px, to === undefined ? a.bottom : to);
    ctx.stroke();
    ctx.restore();
}
function write(ctx, str, x, y, font, color, align, rotate) {
    ctx.save();
    ctx.font = font; ctx.fillStyle = color;
    ctx.textAlign = align || 'left'; ctx.textBaseline = 'middle';
    ctx.translate(x, y);
    if (rotate) ctx.rotate(-Math.PI / 2);
    ctx.fillText(str, 0, 0);
    ctx.restore();
}
const str = v => String(v);

// ---------- top left ----------
const ordTicks = range(0, 700, 100);
const cumTicks = range(-400, 1600, 200);
new Chart(document.getElementById('cumOrd'), {
    type: 'scatter',
    data: { datasets: [
        { data: xy(ordDaysFit, ordCumFit), showLine: true, borderColor: RED, borderWidth: 2, pointRadius: 0, order: 0 },
        { data: xy(ordDaysObs, ordCumObs), showLine: true, borderColor: NAVY, borderWidth: 2.5, pointRadius: 0, order: 1 },
        { data: xy(ordDaysFitEarly, ordCumFitEarly), showLine: true, borderColor: 'rgba(250,80,80,0.75)', borderWidth: 5, borderDash: [5, 4], pointRadius: 0, order: 2 }
    ]},
    options: baseOptions({ left: 0, right: W - 810 - 14, top: 64 - 40, bottom: H - 835 - 20 }, {
        x: frameScale({ axis: 'x', position: 'bottom', min: -50, max: 781, ticks: ordTicks, tick: 18, size: 20 }),
        xTop: frameScale({ axis: 'x', position: 'top', min: -50, max: 781, ticks: ordTicks.concat([613]), tick: 11, size: 40 }),
        y: frameScale({ axis: 'y', position: 'left', min: -400, max: 1600, ticks: cumTicks, tick: 12, size: 158, label: str, pad: 13 }),
        yR: frameScale({ axis: 'y', position: 'right', min: -400, max: 1600, ticks: cumTicks, tick: 12, size: 14 })
    }),
    plugins: [{
        id: 'ordExtras',
        beforeDatasetsDraw(chart) {
            dottedV(chart, 0, undefined, 488);
            dottedV(chart, 0, 707, undefined);
            dottedV(chart, 613);
            dottedV(chart, 637);
        },
        afterDraw(chart) {
            const ctx = chart.ctx, xs = chart.scales.x, a = chart.chartArea;
            ctx.save(); ctx.strokeStyle = '#111'; ctx.lineWidth = 2;
            [0, 613].forEach(v => {
                const px = xs.getPixelForValue(v);
                ctx.beginPath(); ctx.moveTo(px, a.top); ctx.lineTo(px, a.top - 22); ctx.stroke();
            });
            ctx.restore();
            const big = '34px ' + FONT, mid = '28px ' + FONT, midB = 'bold 28px ' + FONT;
            write(ctx, '1-Jan-2017', xs.getPixelForValue(0) + 12, 17, big, INK, 'center');
            write(ctx, '6-Sep-18', xs.getPixelForValue(613) - 4, 17, big, INK, 'center');
            write(ctx, 'Cumulative Number of Events', 19, 405, big, INK, 'center', true);
            write(ctx, 'M>=1.5', 209, 92, big, INK);
            write(ctx, 'Mz=6.7', 387, 92, big, INK);
            write(ctx, '(Estimation Period)', 231, 135, big, INK);
            write(ctx, 'S=  0.01', 201, 180, midB, GRAY);
            write(ctx, 'T=  613.00', 201, 223, midB, GRAY);
            write(ctx, 'Tend= 781.00', 203, 266, mid, INK);
            write(ctx, 'S=  613.099976', 412, 180, midB, INK);
            write(ctx, 'T=  637.00', 412, 223, midB, INK);
            write(ctx, '(Estimated Parameters)', 209, 466, big, INK);
            write(ctx, 'mu= 0.228400', 178, 511, midB, GRAY);
            write(ctx, 'mu= 0.228400', 179, 512, midB, GRAY);
            write(ctx, 'K0=  351.70', 178, 555, mid, GRAY);
            write(ctx, 'c=   0.36990', 178, 598, mid, GRAY);
            write(ctx, 'alpha=  2.4767', 178, 641, mid, GRAY);
            write(ctx, 'p=1.39448', 178, 683, mid, GRAY);
            write(ctx, 'mu= 0.228400*', 414, 505, midB, INK);
            write(ctx, 'K0=  493.73', 414, 548, midB, INK);
            write(ctx, 'c=   0.50710', 414, 591, midB, INK);
            write(ctx, 'alpha=  3.0509', 414, 634, midB, INK);
            write(ctx, 'p=1.45150', 414, 677, midB, INK);
        }
    }]
});

// ---------- bottom left ----------
const magTicks = [2, 3, 4, 5, 6, 7];
new Chart(document.getElementById('magOrd'), {
    type: 'bar',
    data: { datasets: [
        { data: pts(magEvents), backgroundColor: '#111', borderWidth: 0, barThickness: 3 }
    ]},
    options: baseOptions({ left: 0, right: W - 810 - 14, top: 864 - 2, bottom: H - 1073 - 80 }, {
        x: frameScale({ axis: 'x', position: 'bottom', min: -50, max: 781, ticks: ordTicks, tick: 12, size: 80, label: str, pad: 4 }),
        xTop: frameScale({ axis: 'x', position: 'top', min: -50, max: 781, size: 2 }),
        y: frameScale({ axis: 'y', position: 'left', min: 1.2, max: 7, ticks: magTicks, tick: 12, size: 158, label: str, pad: 13 }),
        yR: frameScale({ axis: 'y', position: 'right', min: 1.2, max: 7, ticks: magTicks, tick: 12, size: 14 })
    }),
    plugins: [{
        id: 'magOrdExtras',
        beforeDatasetsDraw(chart) {
            dottedV(chart, 0); dottedV(chart, 613); dottedV(chart, 637);
        },
        afterDraw(chart) {
            const ctx = chart.ctx;
            write(ctx, 'Magnitude', 19, 955, '34px ' + FONT, INK, 'center', true);
            write(ctx, 'Ordinary Time (days)', 483, 1165, '34px ' + FONT, INK, 'center');
        }
    }]
});

// ---------- top right ----------
const trTicks = range(-400, 1400, 200);
new Chart(document.getElementById('cumTrans'), {
    type: 'scatter',
    data: { datasets: [
        { data: xy(trTimeFit, trCumFit), showLine: true, borderColor: RED, borderWidth: 2, pointRadius: 0, order: 0 },
        { data: xy(trTimeBand, trCumUpper), showLine: true, borderColor: RED, borderWidth: 2, pointRadius: 0, order: 0 },
        { data: xy(trTimeBand, trCumLower), showLine: true, borderColor: RED, borderWidth: 2, pointRadius: 0, order: 0 },
        { data: xy(trTimeObs, trCumObs), showLine: true, borderColor: NAVY, borderWidth: 2.5, pointRadius: 0, order: 1 },
        { type: 'bubble', yAxisID: 'yD', order: 2,
          data: depthCluster.concat(depthBand, depthBandLate, depthBandEdge, depthScatter).map(p => ({ x: p[0], y: p[1], r: p[2] })),
          borderColor: BLUE, backgroundColor: 'rgba(0,0,0,0)', borderWidth: 1.4 }
    ]},
    options: baseOptions({ left: 0, right: W - 1619 - 100, top: 64 - 60, bottom: H - 835 - 20 }, {
        x: frameScale({ axis: 'x', position: 'bottom', min: -400, max: 1453, ticks: trTicks, tick: 18, size: 20 }),
        xTop: frameScale({ axis: 'x', position: 'top', min: -400, max: 1453, ticks: [-360, -250, 0], tick: 11, size: 60,
                           label: v => (v === -250 ? '100' : ''), fontSize: 30, pad: 6 }),
        y: frameScale({ axis: 'y', position: 'left', min: -400, max: 1600, ticks: cumTicks, tick: 12, size: 965, label: str, pad: 13 }),
        yD: frameScale({ axis: 'y', position: 'right', min: -47.4, max: 13.96, ticks: [0, -10, -20, -30, -40], tick: 18,
                         tickColor: BLUE, size: 100, label: str, labelColor: BLUE, pad: 16 })
    }),
    plugins: [{
        id: 'transExtras',
        beforeDatasetsDraw(chart) {
            const ctx = chart.ctx, a = chart.chartArea;
            dottedV(chart, -259); dottedV(chart, 0); dottedV(chart, 1221);
            const py = Math.round(chart.scales.y.getPixelForValue(0)) + 0.5;
            ctx.save(); ctx.strokeStyle = '#111'; ctx.lineWidth = 1.4; ctx.setLineDash([2, 2]);
            ctx.beginPath(); ctx.moveTo(a.left, py); ctx.lineTo(a.right, py); ctx.stroke();
            ctx.restore();
        },
        afterDraw(chart) {
            write(chart.ctx, 'Depth(km)', 1747, 491, '38px ' + FONT, BLUE, 'center', true);
        }
    }]
});

// ---------- bottom right ----------
const plusCrowd = [];
plusRows.forEach(row => row[1].forEach(t => plusCrowd.push({ x: t, y: row[0] })));
new Chart(document.getElementById('magTrans'), {
    type: 'scatter',
    data: { datasets: [
        { data: pts(mainshock), pointStyle: 'cross', radius: 8, borderWidth: 4, borderColor: '#111' },
        { data: pts(magPlus).concat(plusCrowd), pointStyle: 'cross', radius: 4.5, borderWidth: 2, borderColor: '#111' },
        { data: pts(magDots), pointStyle: 'circle', radius: 3.6, borderWidth: 0, backgroundColor: '#111' }
    ]},
    options: baseOptions({ left: 0, right: W - 1619 - 14, top: 864 - 2, bottom: H - 1073 - 80 }, {
        x: frameScale({ axis: 'x', position: 'bottom', min: -400, max: 1453, ticks: trTicks, tick: 12, size: 80,
                        label: v => (v === -200 || v === 1000 ? '' : String(v)), pad: 4 }),
        xTop: frameScale({ axis: 'x', position: 'top', min: -400, max: 1453, size: 2 }),
        y: frameScale({ axis: 'y', position: 'left', min: 1.2, max: 7, ticks: magTicks, tick: 12, size: 965, label: str, pad: 13 }),
        yR: frameScale({ axis: 'y', position: 'right', min: 1.2, max: 7, ticks: magTicks, tick: 12, size: 14 })
    }),
    plugins: [{
        id: 'magTransExtras',
        beforeDatasetsDraw(chart) {
            dottedV(chart, -259); dottedV(chart, 0); dottedV(chart, 1221);
        },
        afterDraw(chart) {
            write(chart.ctx, 'Transformed Time', 1278, 1162, '34px ' + FONT, INK, 'center');
        }
    }]
});
</script>
</body>
</html>
